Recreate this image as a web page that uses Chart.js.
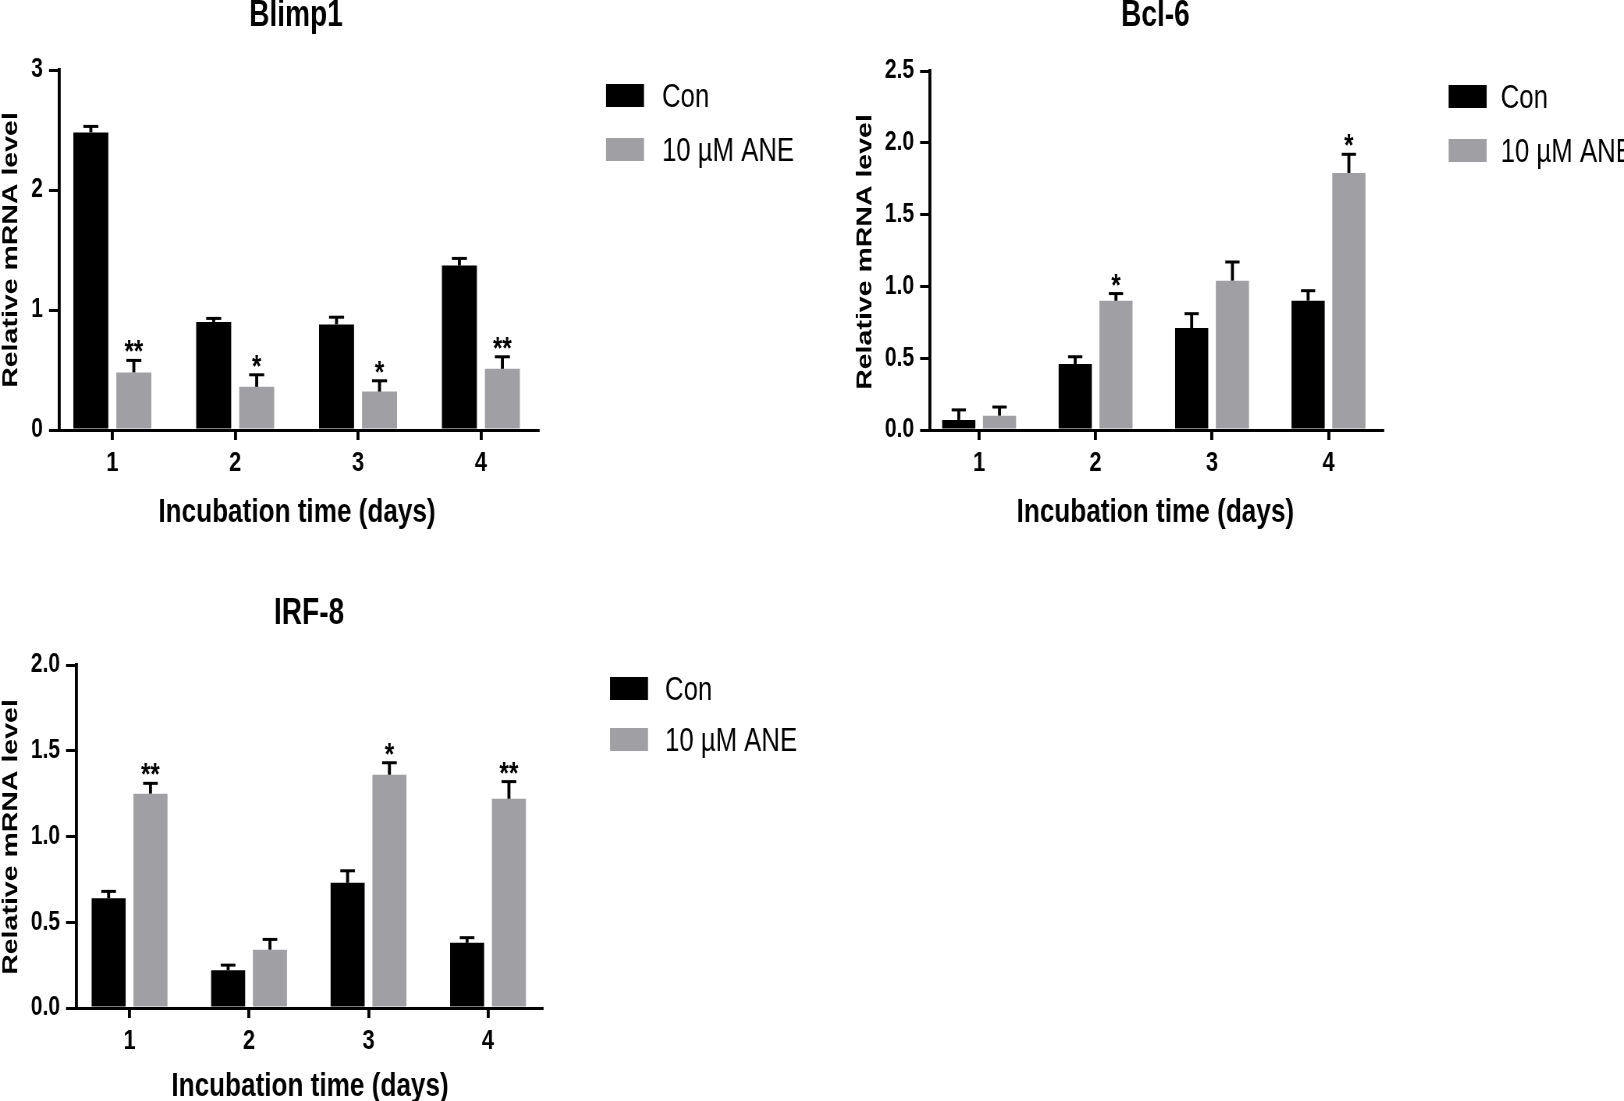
<!DOCTYPE html>
<html>
<head>
<meta charset="utf-8">
<script src="https://cdn.jsdelivr.net/npm/chart.js@4.4.1/dist/chart.umd.min.js"></script>
<style>
    html, body { margin: 0; padding: 0; background: #fff; width: 1624px; height: 1101px; overflow: hidden; }
    /* оригинал сжат по горизонтали — повторяем это через scaleX */
    .panel { position: absolute; transform-origin: 0 0; }
</style>
</head>
<body>
<div class="panel" id="blimpBox"><canvas id="blimpCanvas"></canvas></div>
<div class="panel" id="bclBox"><canvas id="bclCanvas"></canvas></div>
<div class="panel" id="irfBox"><canvas id="irfCanvas"></canvas></div>
<script>
// Данные (среднее и SEM)
const days = ['1', '2', '3', '4'];
const dayNums = [1, 2, 3, 4];
const seriesNames = ['Con', '10 \u00B5M ANE'];

const blimpCon = [2.48, 0.90, 0.88, 1.37];
const blimpConSem = [0.05, 0.03, 0.06, 0.06];
const blimpAne = [0.48, 0.36, 0.32, 0.51];
const blimpAneSem = [0.10, 0.10, 0.09, 0.10];
const blimpStars = ['**', '*', '*', '**'];
const blimpTicks = [0, 1, 2, 3];
const blimpTickLabels = ['0', '1', '2', '3'];

const bclCon = [0.07, 0.46, 0.71, 0.90];
const bclConSem = [0.07, 0.05, 0.10, 0.07];
const bclAne = [0.10, 0.90, 1.04, 1.79];
const bclAneSem = [0.06, 0.05, 0.13, 0.13];
const bclStars = ['', '*', '', '*'];
const bclTicks = [0, 0.5, 1, 1.5, 2, 2.5];
const bclTickLabels = ['0.0', '0.5', '1.0', '1.5', '2.0', '2.5'];

const irfCon = [0.64, 0.22, 0.73, 0.38];
const irfConSem = [0.04, 0.03, 0.07, 0.03];
const irfAne = [1.25, 0.34, 1.36, 1.22];
const irfAneSem = [0.06, 0.06, 0.07, 0.10];
const irfStars = ['**', '', '*', '**'];
const irfTicks = [0, 0.5, 1, 1.5, 2];
const irfTickLabels = ['0.0', '0.5', '1.0', '1.5', '2.0'];

const CON_COLOR = '#000000';
const ANE_COLOR = '#a0a0a4';
const FONT = '"Liberation Sans", Arial, sans-serif';
const SX = 0.78; // горизонтальное сжатие всего рисунка

/**
 * Строит одну панель. g.box = [left, top, width, height] на странице;
 * остальные координаты в g тоже страничные, переводим их в координаты холста.
 */
function makeChart(boxId, canvasId, g) {
    const [L, T, W, H] = g.box;
    const box = document.getElementById(boxId);
    box.style.left = L + 'px';
    box.style.top = T + 'px';
    box.style.width = (W / SX) + 'px';
    box.style.height = H + 'px';
    box.style.transform = 'scaleX(' + SX + ')';

    const px = x => (x - L) / SX;
    const py = y => y - T;

    const decor = {
        id: 'decor_' + canvasId,
        afterDatasetsDraw(chart) {
            const ctx = chart.ctx;
            const ys = chart.scales.y;
            ctx.save();
            ctx.strokeStyle = '#000';

            // планки ошибок (только верх) и звёздочки значимости
            [[g.con, g.conSem], [g.ane, g.aneSem]].forEach(([vals, sem], d) => {
                const meta = chart.getDatasetMeta(d);
                meta.data.forEach((bar, i) => {
                    const top = ys.getPixelForValue(vals[i] + sem[i]);
                    const cw = bar.width * 0.43;
                    ctx.lineWidth = 3 / SX;
                    ctx.beginPath();
                    ctx.moveTo(bar.x, bar.y);
                    ctx.lineTo(bar.x, top);
                    ctx.stroke();
                    ctx.lineWidth = 3;
                    ctx.beginPath();
                    ctx.moveTo(bar.x - cw / 2, top);
                    ctx.lineTo(bar.x + cw / 2, top);
                    ctx.stroke();
                    if (d === 1 && g.stars[i]) {
                        ctx.font = 'bold 31px ' + FONT;
                        ctx.fillStyle = '#000';
                        ctx.textAlign = 'center';
                        ctx.textBaseline = 'alphabetic';
                        const m = ctx.measureText(g.stars[i]);
                        ctx.fillText(g.stars[i], bar.x, top - 8 - m.actualBoundingBoxDescent);
                    }
                });
            });

            ctx.fillStyle = '#000';
            ctx.textBaseline = 'alphabetic';
            ctx.textAlign = 'center';

            // заголовок
            ctx.font = 'bold 36px ' + FONT;
            ctx.fillText(g.title, px(g.titlePos[0]), py(g.titlePos[1]));

            // подпись оси X
            ctx.font = 'bold 33.5px ' + FONT;
            ctx.fillText('Incubation time (days)', px(g.xTitlePos[0]), py(g.xTitlePos[1]));

            // подпись оси Y
            ctx.save();
            ctx.translate(px(g.yTitlePos[0]), py(g.yTitlePos[1]));
            ctx.rotate(-Math.PI / 2);
            ctx.font = 'bold 28.5px ' + FONT;
            ctx.textBaseline = 'middle';
            ctx.fillText('Relative mRNA level', 0, 0);
            ctx.restore();

            // легенда
            const colors = [CON_COLOR, ANE_COLOR];
            ctx.font = '33px ' + FONT;
            ctx.textAlign = 'left';
            seriesNames.forEach((name, k) => {
                const by = py(g.legendY[k]);
                ctx.fillStyle = colors[k];
                ctx.fillRect(px(g.legendX), by, 38 / SX, 23);
                ctx.fillStyle = '#000';
                ctx.fillText(name, px(g.legendTextX), by + 11.5 + 11.5);
            });

            ctx.restore();
        }
    };

    const yWidth = px(g.plot[0]);
    const pad = {
        left: 0,
        top: py(g.plot[1]),
        right: W / SX - px(g.plot[2]),
        bottom: H - py(g.plot[3]) - 60
    };

    return new Chart(document.getElementById(canvasId), {
        type: 'bar',
        data: {
            datasets: [
                {
                    label: seriesNames[0],
                    data: dayNums.map((d, i) => ({ x: d, y: g.con[i] })),
                    backgroundColor: CON_COLOR,
                    categoryPercentage: 0.70,
                    barPercentage: 0.814
                },
                {
                    label: seriesNames[1],
                    data: dayNums.map((d, i) => ({ x: d, y: g.ane[i] })),
                    backgroundColor: ANE_COLOR,
                    categoryPercentage: 0.70,
                    barPercentage: 0.814
                }
            ]
        },
        options: {
            responsive: true,
            maintainAspectRatio: false,
            animation: false,
            layout: { padding: pad },
            plugins: {
                legend: { display: false },
                tooltip: { enabled: false },
                title: { display: false }
            },
            scales: {
                x: {
                    type: 'linear',
                    offset: false,
                    min: g.xMin,
                    max: g.xMax,
                    afterBuildTicks: s => { s.ticks = dayNums.map(v => ({ value: v })); },
                    afterFit: s => { s.height = 60; },
                    border: { display: true, color: '#000', width: 3 },
                    grid: { offset: false, drawOnChartArea: false, drawTicks: true, tickLength: 10, color: '#000', lineWidth: 3 / SX },
                    ticks: {
                        color: '#000',
                        font: { family: FONT, size: 28, weight: 'bold' },
                        padding: 6,
                        maxRotation: 0,
                        autoSkip: false,
                        callback: (v, i) => days[i]
                    }
                },
                y: {
                    min: g.yTicks[0],
                    max: g.yTicks[g.yTicks.length - 1],
                    afterBuildTicks: s => { s.ticks = g.yTicks.map(v => ({ value: v })); },
                    afterFit: s => { s.width = yWidth; },
                    border: { display: true, color: '#000', width: 3 / SX },
                    grid: { drawOnChartArea: false, drawTicks: true, tickLength: 10 / SX, color: '#000', lineWidth: 3 },
                    ticks: {
                        color: '#000',
                        font: { family: FONT, size: 27, weight: 'bold' },
                        padding: 6 / SX,
                        autoSkip: false,
                        callback: (v, i) => g.yTickLabels[i]
                    }
                }
            }
        },
        plugins: [decor]
    });
}

makeChart('blimpBox', 'blimpCanvas', {
    box: [0, 0, 830, 551],
    plot: [59, 70, 538, 430],
    con: blimpCon, conSem: blimpConSem, ane: blimpAne, aneSem: blimpAneSem, stars: blimpStars,
    yTicks: blimpTicks, yTickLabels: blimpTickLabels,
    xMin: 0.566, xMax: 4.465,
    title: 'Blimp1', titlePos: [296, 26],
    xTitlePos: [297, 522], yTitlePos: [11, 250],
    legendX: 606, legendTextX: 662, legendY: [84, 138]
});

makeChart('bclBox', 'bclCanvas', {
    box: [830, 0, 794, 551],
    plot: [930, 71, 1382, 430],
    con: bclCon, conSem: bclConSem, ane: bclAne, aneSem: bclAneSem, stars: bclStars,
    yTicks: bclTicks, yTickLabels: bclTickLabels,
    xMin: 0.579, xMax: 4.464,
    title: 'Bcl-6', titlePos: [1155, 26],
    xTitlePos: [1155, 522], yTitlePos: [865, 252],
    legendX: 1448, legendTextX: 1500, legendY: [85, 139]
});

makeChart('irfBox', 'irfCanvas', {
    box: [0, 551, 830, 550],
    plot: [76, 665, 542, 1008],
    con: irfCon, conSem: irfConSem, ane: irfAne, aneSem: irfAneSem, stars: irfStars,
    yTicks: irfTicks, yTickLabels: irfTickLabels,
    xMin: 0.552, xMax: 4.452,
    title: 'IRF-8', titlePos: [309, 624],
    xTitlePos: [310, 1096], yTitlePos: [11, 837],
    legendX: 610, legendTextX: 665, legendY: [677, 728]
});
</script>
</body>
</html>
